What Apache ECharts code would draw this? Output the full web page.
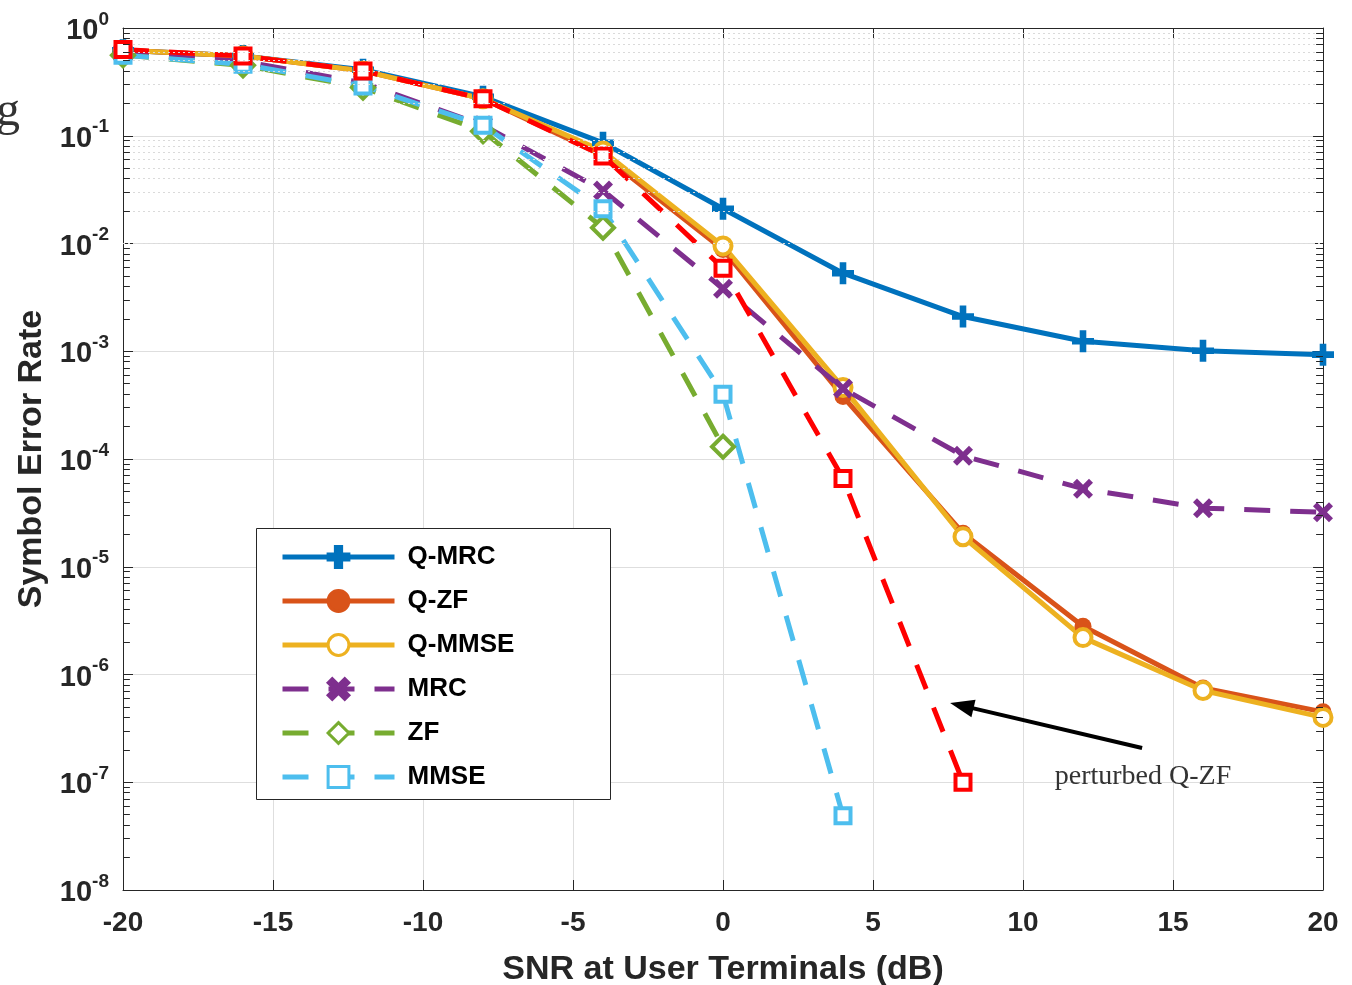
<!DOCTYPE html>
<html>
<head>
<meta charset="utf-8">
<script src="https://cdn.jsdelivr.net/npm/echarts@6/dist/echarts.min.js"></script>
<style>
  html, body { margin: 0; padding: 0; background: #fff; }
  #chart { width: 1352px; height: 985px; }
</style>
</head>
<body>
<div id="chart"></div>
<script>
// SNR grid (dB) and symbol error rates per receiver
const snr = [-20, -16, -12, -8, -4, 0, 4, 8, 12, 16, 20];
const qMrc = [0.62, 0.55, 0.41, 0.23, 0.086, 0.021, 0.0053, 0.0021, 0.00124, 0.00101, 0.00093];
const qZf = [0.62, 0.55, 0.40, 0.22, 0.066, 0.0088, 0.00038, 2.05e-5, 2.8e-6, 7.5e-7, 4.5e-7];
const qMmse = [0.62, 0.55, 0.40, 0.22, 0.072, 0.0095, 0.00046, 1.9e-5, 2.2e-6, 7.1e-7, 4.0e-7];
const mrc = [0.58, 0.49, 0.31, 0.125, 0.031, 0.0038, 0.00045, 1.07e-4, 5.3e-5, 3.5e-5, 3.2e-5];
const zf = [0.56, 0.45, 0.28, 0.11, 0.014, 1.3e-4];
const mmse = [0.56, 0.46, 0.29, 0.125, 0.021, 4.0e-4, 4.9e-8];
const qZfPerturbed = [0.63, 0.55, 0.40, 0.22, 0.065, 0.0059, 6.6e-5, 1.0e-7];

const legendNames = ['Q-MRC', 'Q-ZF', 'Q-MMSE', 'MRC', 'ZF', 'MMSE'];
const xTicks = { min: -20, max: 20, step: 5 };
const yDecades = { min: -8, max: 0 };

const SANS = '"Liberation Sans", Arial, Helvetica, sans-serif';
const SERIF = '"Liberation Serif", "Times New Roman", serif';
const PLUS = 'path://M3.5,0H6.5V3.5H10V6.5H6.5V10H3.5V6.5H0V3.5H3.5Z';
const CROSS = 'path://M0,2L2,0L5,3L8,0L10,2L7,5L10,8L8,10L5,7L2,10L0,8L3,5Z';

const pairs = (ys) => ys.map((v, i) => [snr[i], v]);

// minor decade values 2..9 x 10^k for the dotted grid and small ticks
const minorVals = [];
for (let k = yDecades.min; k < yDecades.max; k++) {
  for (let m = 2; m <= 9; m++) minorVals.push(m * Math.pow(10, k));
}

const chart = echarts.init(document.getElementById('chart'), null, { renderer: 'canvas' });

// solid-filled marker (plus, cross, dot)
function filledStyle(color) {
  return { color: color, borderColor: color, borderWidth: 0 };
}
// hollow marker with a thick outline
function hollowStyle(color) {
  return { color: '#fff', borderColor: color, borderWidth: 4 };
}

function lineSeries(name, data, color, opts) {
  return Object.assign({
    name: name,
    type: 'line',
    data: pairs(data),
    color: color,
    showSymbol: true,
    symbolKeepAspect: true,
    lineStyle: { width: 5, color: color },
    itemStyle: filledStyle(color),
    emphasis: { disabled: true },
    animation: false,
    z: 3
  }, opts || {});
}

const dashed = (color) => ({ width: 5, color: color, type: [26, 20] });

const series = [
  // dotted minor grid
  {
    name: 'minor-grid',
    type: 'line',
    data: [],
    silent: true,
    z: 1,
    animation: false,
    markLine: {
      silent: true,
      animation: false,
      symbol: ['none', 'none'],
      label: { show: false },
      lineStyle: { type: [2, 3], color: '#dadada', width: 1 },
      data: minorVals.map(v => ({ yAxis: v }))
    }
  },
  // small inward ticks at the minor values, left and right
  {
    name: 'minor-ticks',
    type: 'line',
    data: [],
    silent: true,
    z: 4,
    animation: false,
    markLine: {
      silent: true,
      animation: false,
      symbol: ['none', 'none'],
      label: { show: false },
      lineStyle: { type: 'solid', color: '#262626', width: 1 },
      data: minorVals.flatMap(v => [
        [{ coord: [xTicks.min, v] }, { coord: [xTicks.min + 0.23, v] }],
        [{ coord: [xTicks.max, v] }, { coord: [xTicks.max - 0.23, v] }]
      ])
    }
  },
  lineSeries('Q-MRC', qMrc, '#0072BD', { symbol: PLUS, symbolSize: 22 }),
  lineSeries('Q-ZF', qZf, '#D95319', { symbol: 'circle', symbolSize: 17 }),
  lineSeries('Q-MMSE', qMmse, '#EDB120', { symbol: 'circle', symbolSize: 17, itemStyle: hollowStyle('#EDB120') }),
  lineSeries('MRC', mrc, '#7E2F8E', { symbol: CROSS, symbolSize: 20, lineStyle: dashed('#7E2F8E') }),
  lineSeries('ZF', zf, '#77AC30', { symbol: 'diamond', symbolSize: 22, lineStyle: dashed('#77AC30'), itemStyle: hollowStyle('#77AC30') }),
  lineSeries('MMSE', mmse, '#4DBEEE', { symbol: 'rect', symbolSize: 15, lineStyle: dashed('#4DBEEE'), itemStyle: hollowStyle('#4DBEEE') }),
  lineSeries('perturbed Q-ZF', qZfPerturbed, '#FF0000', {
    symbol: 'rect', symbolSize: 15,
    lineStyle: dashed('#FF0000'),
    itemStyle: hollowStyle('#FF0000'),
    markLine: {
      silent: true,
      animation: false,
      symbol: ['none', 'triangle'],
      symbolSize: [18, 24],
      label: { show: false },
      lineStyle: { type: 'solid', color: '#000', width: 4 },
      data: [[{ coord: [13.97, 2.08e-7] }, { coord: [7.96, 5.14e-7] }]]
    },
    markPoint: {
      silent: true,
      animation: false,
      symbol: 'rect',
      symbolSize: 0,
      label: {
        show: true,
        position: 'inside',
        formatter: 'perturbed Q-ZF',
        fontFamily: SERIF,
        fontSize: 28,
        color: '#333'
      },
      data: [{ coord: [14, 1.12e-7] }]
    }
  })
];

const axisLineStyle = { color: '#262626', width: 1 };

const option = {
  backgroundColor: '#fff',
  animation: false,
  grid: { left: 123, top: 28, right: 29, bottom: 95, containLabel: false, outerBoundsMode: 'none' },
  legend: {
    data: legendNames,
    orient: 'vertical',
    left: 280,
    top: 544,
    z: 100,
    padding: 0,
    itemWidth: 112,
    itemHeight: 26,
    itemGap: 18,
    selectedMode: false,
    lineStyle: { width: 5 },
    itemStyle: { borderWidth: 3 },
    textStyle: { fontFamily: SANS, fontSize: 26, fontWeight: 'bold', color: '#000', padding: [0, 0, 0, 8] }
  },
  graphic: [
    {
      type: 'rect',
      z: 50,
      shape: { x: 256.5, y: 528.5, width: 354, height: 271 },
      style: { fill: '#fff', stroke: '#262626', lineWidth: 1 },
      silent: true
    },
    {
      type: 'text',
      x: -4,
      y: 112,
      silent: true,
      style: { text: 'g', font: '48px ' + SERIF, fill: '#333', verticalAlign: 'middle' }
    }
  ],
  xAxis: [
    {
      type: 'value',
      position: 'bottom',
      min: xTicks.min, max: xTicks.max, interval: xTicks.step,
      axisLine: { show: true, onZero: false, lineStyle: axisLineStyle },
      axisTick: { show: true, inside: true, length: 10, lineStyle: axisLineStyle },
      splitLine: { show: true, lineStyle: { color: '#dedede', width: 1 } },
      axisLabel: { fontFamily: SANS, fontSize: 28, fontWeight: 'bold', color: '#262626', margin: 19 },
      name: 'SNR at User Terminals (dB)',
      nameLocation: 'middle',
      nameGap: 63,
      nameTextStyle: { fontFamily: SANS, fontSize: 34, fontWeight: 'bold', color: '#262626' }
    },
    {
      type: 'value',
      position: 'top',
      min: xTicks.min, max: xTicks.max, interval: xTicks.step,
      axisLine: { show: true, onZero: false, lineStyle: axisLineStyle },
      axisTick: { show: true, inside: true, length: 10, lineStyle: axisLineStyle },
      splitLine: { show: false },
      axisLabel: { show: false }
    }
  ],
  yAxis: [
    {
      type: 'log',
      logBase: 10,
      position: 'left',
      min: Math.pow(10, yDecades.min), max: Math.pow(10, yDecades.max),
      interval: 1,
      axisLine: { show: true, onZero: false, lineStyle: axisLineStyle },
      axisTick: { show: true, inside: true, length: 10, lineStyle: axisLineStyle },
      splitLine: { show: true, lineStyle: { color: '#dedede', width: 1 } },
      axisLabel: {
        margin: 14,
        formatter: v => '{b|10}{s|' + Math.round(Math.log10(v)) + '}',
        rich: {
          b: { fontFamily: SANS, fontSize: 29, fontWeight: 'bold', color: '#262626', lineHeight: 36, padding: [6, 0, 0, 0] },
          s: { fontFamily: SANS, fontSize: 19, fontWeight: 'bold', color: '#262626', lineHeight: 20, verticalAlign: 'top' }
        }
      },
      name: 'Symbol Error Rate',
      nameLocation: 'middle',
      nameGap: 74,
      nameTextStyle: { fontFamily: SANS, fontSize: 34, fontWeight: 'bold', color: '#262626' }
    },
    {
      type: 'log',
      logBase: 10,
      position: 'right',
      min: Math.pow(10, yDecades.min), max: Math.pow(10, yDecades.max),
      interval: 1,
      axisLine: { show: true, onZero: false, lineStyle: axisLineStyle },
      axisTick: { show: true, inside: true, length: 10, lineStyle: axisLineStyle },
      splitLine: { show: false },
      axisLabel: { show: false }
    }
  ],
  series: series
};

chart.setOption(option);
</script>
</body>
</html>
